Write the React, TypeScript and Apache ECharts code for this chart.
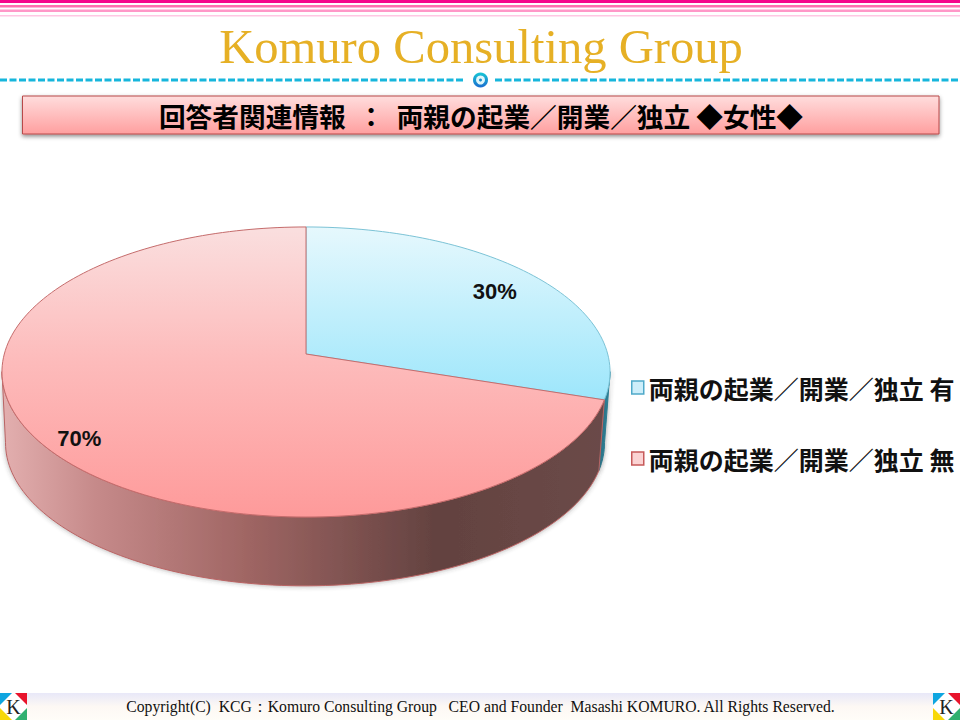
import React, { useEffect, useRef } from "react";
import * as echarts from "echarts";

const categories = ["両親の起業／開業／独立 有", "両親の起業／開業／独立 無"];
const values = [30, 70];
const pageTitle = "Komuro Consulting Group";
const chartTitle = "回答者関連情報  ：  両親の起業／開業／独立 ◆女性◆";
const footerText =
  "Copyright(C)  KCG：Komuro Consulting Group   CEO and Founder  Masashi KOMURO. All Rights Reserved.";

const total = values.reduce((a, b) => a + b, 0);
const SERIF = "'Liberation Serif', serif";
const GOTHIC = "'Noto Sans CJK JP', sans-serif";

// Perspective projection of a unit disc on the page
const CX = 306, R = 301.7, A = 354, B = 98.9, C = -0.124;
const project = (f: number, angle: number): [number, number] => {
  const u = f * Math.sin(angle);
  const v = -f * Math.cos(angle);
  const d = 1 + C * v;
  return [CX + (R * u) / d, (A + B * v) / d];
};
const lower = (p: [number, number]): [number, number] => [
  305 + (p[0] - 306) * 0.985,
  372 + (p[1] - 372) * 0.985 + 71,
];
const arc = (a0: number, a1: number) => {
  const pts: [number, number][] = [];
  const n = Math.max(2, Math.ceil((Math.abs(a1 - a0) / (2 * Math.PI)) * 240));
  for (let i = 0; i <= n; i++) pts.push(project(1, a0 + ((a1 - a0) * i) / n));
  return pts;
};
const grad = (x0: number, y0: number, x1: number, y1: number, stops: [number, string][]) =>
  new echarts.graphic.LinearGradient(
    x0, y0, x1, y1,
    stops.map(([offset, color]) => ({ offset, color })),
    true
  );

const FRONT_RIGHT = (97 * Math.PI) / 180;
const FRONT_LEFT = (263 * Math.PI) / 180;

const looks = [
  {
    top: [[0, "#e6f8fd"], [1, "#9ce6fb"]] as [number, string][],
    topY: [227, 402],
    side: [[0, "#1f6f86"], [1, "#2c8199"]] as [number, string][],
    stroke: "#7cc3d6",
    sideStroke: "#2a7d92",
    labelF: 0.82,
    labelDy: 2,
  },
  {
    top: [[0, "#fadfdf"], [0.45, "#fdbcbc"], [1, "#fe9a9a"]] as [number, string][],
    topY: [227, 517],
    side: [
      [0, "#e2aeae"], [0.15, "#c68a8a"], [0.4, "#a06664"], [0.72, "#634240"], [1, "#6b4a48"],
    ] as [number, string][],
    stroke: "#c56c6c",
    sideStroke: "#b96464",
    labelF: 0.87,
    labelDy: 7,
  },
];

const sliceSeries = (index: number) => ({
  type: "custom" as const,
  name: categories[index],
  coordinateSystem: "none" as const,
  silent: true,
  data: [[values[index]]],
  renderItem: (_: unknown, api: any) => {
    const before = values.slice(0, index).reduce((a, b) => a + b, 0);
    const a0 = (before / total) * 2 * Math.PI;
    const a1 = ((before + api.value(0)) / total) * 2 * Math.PI;
    const look = looks[index];
    const children: any[] = [];

    const s0 = Math.max(a0, FRONT_RIGHT);
    const s1 = Math.min(a1, FRONT_LEFT);
    const rim = arc(s0, s1);
    children.push({
      type: "polygon",
      shape: { points: [...rim, ...rim.slice().reverse().map(lower)] },
      style: {
        fill: grad(5, 0, 604, 0, look.side),
        stroke: look.sideStroke,
        lineWidth: 1,
        shadowBlur: 5,
        shadowColor: "rgba(60,60,60,0.45)",
      },
    });

    const apex = project(0, 0);
    children.push({
      type: "polygon",
      shape: { points: [apex, ...arc(a0, a1)] },
      style: {
        fill: grad(0, look.topY[0], 0, look.topY[1], look.top),
        stroke: look.stroke,
        lineWidth: 1,
      },
    });

    const [lx, ly] = project(look.labelF, (a0 + a1) / 2);
    children.push({
      type: "text",
      style: {
        text: `${api.value(0)}%`,
        x: lx,
        y: ly + look.labelDy,
        fontFamily: "'Liberation Sans', sans-serif",
        fontSize: 22,
        fontWeight: 700,
        fill: "#111",
        textAlign: "center",
        textVerticalAlign: "middle",
      },
    });
    return { type: "group", children };
  },
});

const stripe = (y: number, h: number, fill: string) => ({
  type: "rect", shape: { x: 0, y, width: 960, height: h }, style: { fill }, silent: true,
});

const tri = (points: number[][], fill: string) => ({ type: "polygon", shape: { points }, style: { fill } });
const logo = (x: number) => ({
  type: "group",
  x,
  y: 693,
  silent: true,
  children: [
    { type: "rect", shape: { x: 0, y: 0, width: 27, height: 27 }, style: { fill: "#fff" } },
    tri([[0, 0], [12, 0], [0, 12]], "#0ea5e0"),
    tri([[27, 0], [15, 0], [27, 12]], "#e8142c"),
    tri([[0, 27], [12, 27], [0, 15]], "#f8d808"),
    tri([[27, 27], [15, 27], [27, 15]], "#30b070"),
    {
      type: "text",
      style: {
        text: "K", x: 13.5, y: 14, fontFamily: SERIF, fontSize: 20, fill: "#222",
        textAlign: "center", textVerticalAlign: "middle",
      },
    },
  ],
});

const centered = (text: string, x: number, y: number, fontSize: number, family: string, fill: string, fontWeight = 400) => ({
  type: "text",
  silent: true,
  style: { text, x, y, fontFamily: family, fontSize, fontWeight, fill, textAlign: "center", textVerticalAlign: "middle" },
});

export default function App() {
  const ref = useRef<HTMLDivElement>(null);
  useEffect(() => {
    if (!ref.current) return;
    const chart = echarts.init(ref.current, undefined, { renderer: "svg" });
    chart.setOption({
      animation: false,
      backgroundColor: "#fff",
      legend: {
        orient: "vertical",
        left: 626,
        top: 370,
        padding: 5,
        itemWidth: 12,
        itemHeight: 13,
        itemGap: 46,
        icon: "rect",
        selectedMode: false,
        textStyle: { fontFamily: GOTHIC, fontSize: 25, fontWeight: 700, color: "#111" },
        data: [
          { name: categories[0], itemStyle: { color: "#cdeefa", borderColor: "#4fa9c9", borderWidth: 1.5 } },
          { name: categories[1], itemStyle: { color: "#fbd3d3", borderColor: "#c65a5a", borderWidth: 1.5 } },
        ],
      },
      graphic: [
        stripe(0, 3, "#f5088c"),
        stripe(5, 2.5, "#ff70b0"),
        stripe(9.5, 2.5, "#ff98c8"),
        stripe(15, 1.5, "#ffc8e4"),
        centered(pageTitle, 481, 47, 48.6, SERIF, "#e6b025"),
        {
          type: "line", silent: true,
          shape: { x1: 0, y1: 80, x2: 465, y2: 80 },
          style: { stroke: "#16b6dc", lineWidth: 3, lineDash: [7, 2.5] },
        },
        {
          type: "line", silent: true,
          shape: { x1: 495, y1: 80, x2: 960, y2: 80 },
          style: { stroke: "#16b6dc", lineWidth: 3, lineDash: [7, 2.5] },
        },
        {
          type: "circle", silent: true,
          shape: { cx: 480.5, cy: 80, r: 6 },
          style: { fill: "#dff6fa", stroke: grad(0, 73, 0, 87, [[0, "#17c5d5"], [1, "#1a6fd0"]]), lineWidth: 3 },
        },
        { type: "circle", silent: true, shape: { cx: 480.5, cy: 80, r: 1.5 }, style: { fill: "#1a8fd0" } },
        {
          type: "rect", silent: true,
          shape: { x: 22.5, y: 96, width: 916.5, height: 38 },
          style: {
            fill: grad(0, 96, 0, 134, [[0, "#ffdddd"], [1, "#ff9f9f"]]),
            stroke: "#b84848",
            lineWidth: 1,
            shadowBlur: 4,
            shadowOffsetY: 2,
            shadowColor: "rgba(0,0,0,0.45)",
          },
        },
        centered(chartTitle, 481, 115, 26.7, GOTHIC, "#000", 700),
        {
          type: "rect", silent: true,
          shape: { x: 0, y: 693, width: 960, height: 27 },
          style: { fill: grad(0, 693, 0, 720, [[0, "#e8e8f8"], [0.5, "#fdf8f4"], [1, "#fffdf8"]]) },
        },
        centered(footerText, 480.5, 706.5, 15.7, SERIF, "#111"),
        logo(0),
        logo(933),
      ],
      series: [sliceSeries(0), sliceSeries(1)],
    });
    return () => chart.dispose();
  }, []);
  return <div ref={ref} style={{ position: "fixed", left: 0, top: 0, width: 960, height: 720 }} />;
}
